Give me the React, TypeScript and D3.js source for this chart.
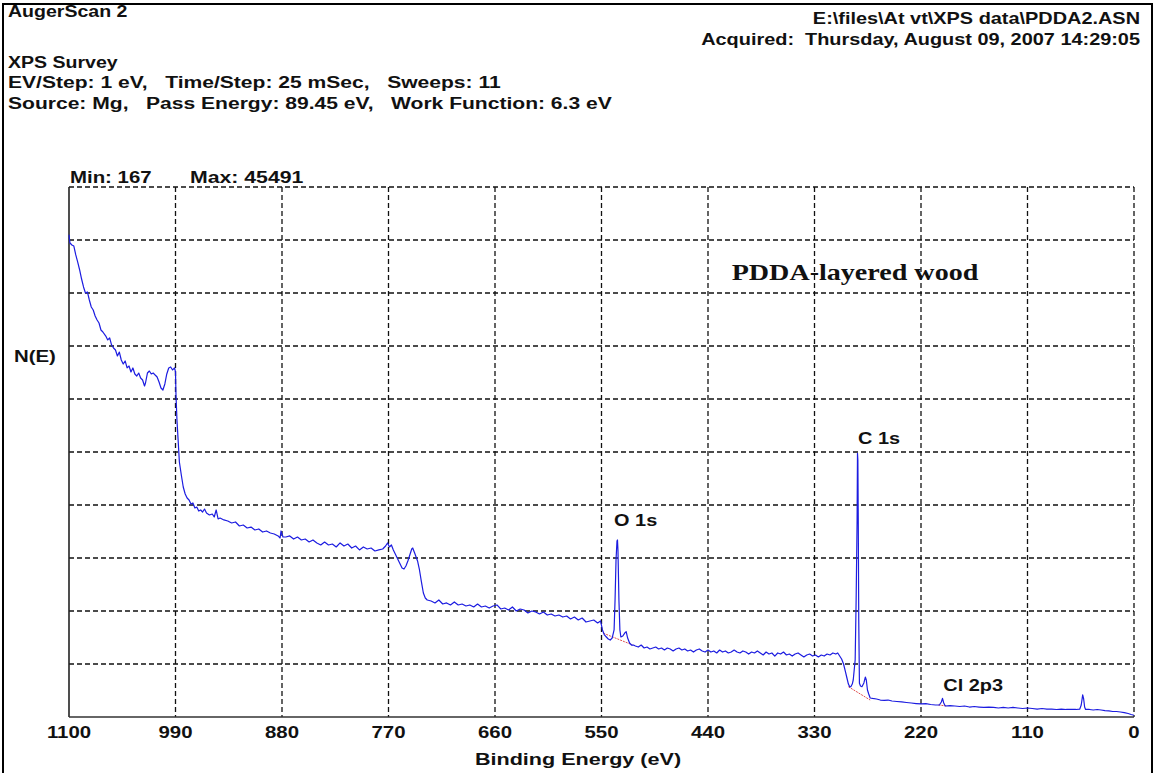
import React from "react";
import * as d3 from "d3";

// ---- data (binding energy eV, counts) ----
const xTicks = [1100, 990, 880, 770, 660, 550, 440, 330, 220, 110, 0];
const yGrid = [5000, 10000, 15000, 20000, 25000, 30000, 35000, 40000, 45000, 50000];

const highRegion: [number, number][] = [
  [1100, 45491], [1099, 44720], [1097, 44530], [1095, 44430], [1093, 43590], [1091, 42920],
  [1089, 42170], [1087, 41320], [1085, 40570], [1083, 40000], [1081, 40100], [1079, 39340],
  [1077, 38680], [1075, 38400], [1073, 37830], [1071, 37450], [1069, 37170], [1067, 36510],
  [1065, 36320], [1062, 35940], [1060, 35570], [1058, 35760], [1056, 35090], [1054, 34810],
  [1052, 34620], [1050, 34060], [1048, 34430], [1046, 33680], [1044, 33300], [1042, 33590],
  [1040, 32930], [1038, 33110], [1036, 32550], [1034, 32930], [1032, 32360], [1030, 32170],
  [1028, 32450], [1026, 31980], [1024, 31790], [1022, 31230], [1021, 31510], [1019, 32450],
  [1017, 32640], [1015, 32360], [1013, 32450], [1011, 32260], [1009, 32080], [1007, 31600],
  [1005, 31040], [1003, 30850], [1001, 31420], [999, 32360], [997, 32930], [995, 33020],
  [993, 32740], [991, 32930], [990, 32550],
];

const plateau: [number, number][] = [
  [989.5, 30380], [988.5, 28020], [987, 25660], [986, 24060], [984, 22830], [982, 21700],
  [980, 21040], [978, 20660], [976, 20470], [974, 20090], [972, 20190], [970, 19720],
  [968, 19810], [966, 19430], [964, 19530], [962, 19340], [960, 19620], [958, 19250],
  [955, 19060], [952, 19150], [950, 18870], [948, 19530], [946, 18680], [944, 18770],
  [940, 18590], [936, 18490], [932, 18300], [928, 18400], [924, 18020], [920, 18110],
  [916, 17830], [912, 17920], [908, 17640], [904, 17740], [900, 17450], [896, 17550],
  [892, 17360], [888, 17260], [884, 17080], [882, 16890], [881, 17550], [879, 16980],
  [876, 16980], [872, 17080], [868, 16790], [864, 16980], [860, 16700], [856, 16790],
  [852, 16510], [848, 16700], [844, 16420], [840, 16230], [836, 16510], [832, 16230],
  [828, 16320], [824, 16040], [820, 16420], [816, 16130], [812, 16320], [808, 15940],
  [804, 16130], [800, 15760], [796, 16040], [792, 15850], [788, 15940], [784, 15660],
  [780, 15760], [776, 15850], [773, 16130], [771, 16420], [769, 16040], [767, 16230],
  [765, 15760], [762, 15190], [759, 14620], [756, 14060], [754, 13960], [752, 14250],
  [750, 14720], [748, 15280], [746, 15850], [745, 15940], [743, 15470], [740, 14720],
  [738, 13870], [736, 12740], [734, 11700], [732, 11230], [730, 11040],
];

const midRegion: [number, number][] = [
  [726, 10940], [722, 10760], [718, 11040], [714, 10660], [710, 10760], [706, 10570],
  [702, 10850], [698, 10570], [694, 10660], [690, 10470], [686, 10570], [682, 10380],
  [678, 10660], [674, 10380], [670, 10470], [666, 10280], [662, 10470], [658, 10570],
  [654, 10190], [650, 10280], [646, 10090], [642, 10380], [638, 10000], [634, 10190],
  [630, 10090], [626, 9810], [622, 10000], [618, 9910], [614, 9720], [610, 9910],
  [606, 9620], [602, 9720], [598, 9530], [594, 9620], [590, 9430], [586, 9530],
  [582, 9250], [578, 9430], [574, 9150], [570, 9340], [566, 8960], [562, 9060],
  [558, 9150], [554, 8870], [551, 9060],
];

const o1sRegion: [number, number][] = [
  [549, 8210], [547, 7740], [545, 7550], [543, 7360], [541, 7260], [539, 7450],
  [537, 8210], [536, 11040], [535, 14810], [534, 16600], [533.5, 16700], [533, 15760],
  [532, 11040], [531, 8210], [530, 7550], [528, 7640], [526, 7920], [524.5, 8050],
  [523, 7450], [521, 6980], [519, 6790], [517, 6790], [515, 6700], [512, 6600],
  [509, 6790], [506, 6510], [503, 6600], [500, 6420], [497, 6510], [494, 6600],
  [491, 6420], [488, 6510], [485, 6320], [482, 6510], [479, 6420], [476, 6230],
  [473, 6420], [470, 6510], [467, 6320], [464, 6420], [461, 6230], [458, 6320],
  [455, 6130], [452, 6320], [449, 6420], [446, 6230], [443, 6130], [440, 6320],
  [437, 6130], [434, 6230], [431, 6040], [428, 6320], [425, 6130], [422, 6230],
  [419, 6040], [416, 6130], [413, 6320], [410, 6130], [407, 6040], [404, 6230],
  [401, 6130], [398, 5940], [395, 6130], [392, 6040], [389, 6230], [386, 6040],
  [383, 5850], [380, 6130], [377, 5940], [374, 6040], [371, 5750], [368, 6040],
  [365, 5940], [362, 6130], [359, 5850], [356, 5940], [353, 5750], [350, 5940],
  [347, 6040], [344, 5850], [341, 5660], [338, 5850], [335, 5940], [332, 5750],
  [329, 5850], [326, 5660], [323, 5850], [320, 5750], [317, 5940], [314, 5850],
  [311, 6040], [308, 5940], [306, 6040], [304, 5750],
];

const c1sRegion: [number, number][] = [
  [302, 5470], [300, 5000], [298, 4250], [296.5, 3680], [295, 3110], [293.5, 2830],
  [292.5, 2860], [291, 3110], [290, 3490], [289, 4430], [288, 5380], [287, 11040],
  [286, 18590], [285.6, 24880], [285.2, 24250], [284.8, 18590], [284.3, 9150],
  [283.6, 3180], [282.5, 2920], [281, 2860], [279, 3210], [277.5, 3770], [276.5, 3490],
  [275.3, 2550], [274, 2170], [272.5, 1790], [270, 1750], [266, 1700], [262, 1600],
  [258, 1560], [254, 1600], [250, 1510], [245, 1460], [240, 1420], [235, 1370],
  [230, 1320], [225, 1270], [220, 1230], [215, 1260], [210, 1180], [205, 1130],
];

const lowRegion: [number, number][] = [
  [201, 1130], [199, 1420], [197.8, 1760], [196.5, 1320], [195, 1040], [190, 1080],
  [185, 1040], [180, 990], [175, 1040], [170, 940], [165, 990], [160, 940],
  [155, 900], [150, 940], [145, 900], [140, 850], [135, 900], [130, 850],
  [125, 900], [120, 850], [115, 800], [110, 850], [105, 800], [100, 750],
  [95, 800], [90, 750], [85, 750], [80, 710], [75, 750], [70, 710],
  [65, 710], [60, 710], [56, 750], [54.5, 1130], [53, 2080], [52, 1700],
  [51, 940], [50, 710], [46, 710], [42, 660], [38, 710], [34, 660],
  [30, 610], [26, 570], [22, 520], [18, 520], [14, 470], [10, 420],
  [6, 330], [3, 240], [0, 167],
];

const spectrum = [...highRegion, ...plateau, ...midRegion, ...o1sRegion, ...c1sRegion, ...lowRegion];

const backgroundO1s: [number, number][] = [[548, 7900], [518, 6800]];
const backgroundC1s: [number, number][] = [[295, 2860], [272.5, 1600]];
const backgroundCl: [number, number][] = [[202, 1130], [194, 1050]];

const peakLabels = [
  { text: "O 1s", e: 537, c: 18000 },
  { text: "C 1s", e: 285, c: 25750 },
  { text: "Cl 2p3", e: 197, c: 2450 },
];

// ---- layout ----
const W = 1156;
const H = 773;
const plot = { left: 69, right: 1134, top: 187, bottom: 717 };
const FONT = "'Liberation Sans', Arial, sans-serif";

const x = d3.scaleLinear().domain([1100, 0]).range([plot.left, plot.right]);
const y = d3.scaleLinear().domain([0, 50000]).range([plot.bottom, plot.top]);

function T({ x: tx, y: ty, anchor = "start", size = 17, sx = 1.2, family = FONT, children }: any) {
  return (
    <text
      transform={`translate(${tx},${ty}) scale(${sx},1)`}
      textAnchor={anchor}
      fontFamily={family}
      fontWeight="bold"
      fontSize={size}
      fill="#111"
      style={{ whiteSpace: "pre" }}
    >
      {children}
    </text>
  );
}

export default function App() {
  const line = d3
    .line<[number, number]>()
    .x((d) => x(d[0]))
    .y((d) => y(d[1]));

  return (
    <svg width={W} height={H} style={{ position: "absolute", left: 0, top: 0, background: "#fff" }}>
      <rect x={0} y={0} width={W} height={H} fill="#fff" />
      <rect x={3} y={4} width={1149} height={800} fill="none" stroke="#000" strokeWidth={2} />

      {/* header */}
      <T x={8} y={17} sx={1.15}>AugerScan 2</T>
      <T x={1140} y={24} anchor="end" sx={1.17}>{"E:\\files\\At vt\\XPS data\\PDDA2.ASN"}</T>
      <T x={1140} y={45} anchor="end" sx={1.17}>{"Acquired:  Thursday, August 09, 2007 14:29:05"}</T>
      <T x={8} y={68} sx={1.15}>XPS Survey</T>
      <T x={8} y={88} sx={1.24}>{"EV/Step: 1 eV,   Time/Step: 25 mSec,   Sweeps: 11"}</T>
      <T x={8} y={109} sx={1.24}>{"Source: Mg,   Pass Energy: 89.45 eV,   Work Function: 6.3 eV"}</T>
      <T x={70} y={183} sx={1.2}>Min: 167</T>
      <T x={190} y={183} sx={1.25}>Max: 45491</T>
      <T x={14} y={362}>N(E)</T>

      {/* grid */}
      {xTicks.slice(1).map((t) => (
        <line key={"gx" + t} x1={x(t)} x2={x(t)} y1={plot.top} y2={plot.bottom}
          stroke="#111" strokeWidth={1.3} strokeDasharray="5,3" />
      ))}
      {yGrid.map((g) => (
        <line key={"gy" + g} x1={plot.left} x2={plot.right} y1={y(g)} y2={y(g)}
          stroke="#111" strokeWidth={1.3} strokeDasharray="5,3" />
      ))}
      <line x1={plot.left} x2={plot.left} y1={plot.top} y2={plot.bottom} stroke="#222" strokeWidth={1.6} />
      <line x1={plot.left} x2={plot.right} y1={y(0)} y2={y(0)} stroke="#333" strokeWidth={1.6} />

      {/* background lines */}
      {[backgroundO1s, backgroundC1s, backgroundCl].map((b, i) => (
        <path key={"bg" + i} d={line(b) || ""} stroke="#e05050" strokeWidth={1} fill="none" strokeDasharray="2,1" />
      ))}

      {/* spectrum */}
      <path d={line(spectrum) || ""} fill="none" stroke="#1c1ce0" strokeWidth={1.2} strokeLinejoin="round" />

      {/* peak labels */}
      {peakLabels.map((p) => (
        <T key={p.text} x={x(p.e)} y={y(p.c)} sx={1.17}>{p.text}</T>
      ))}
      <T x={855} y={280} anchor="middle" size={24} sx={1.17} family="'Liberation Serif', 'Times New Roman', serif">PDDA-layered wood</T>

      {/* x tick labels */}
      {xTicks.map((t) => (
        <T key={"tl" + t} x={x(t)} y={738} anchor="middle">{String(t)}</T>
      ))}
      <T x={578} y={765} anchor="middle" sx={1.27}>Binding Energy (eV)</T>
    </svg>
  );
}
